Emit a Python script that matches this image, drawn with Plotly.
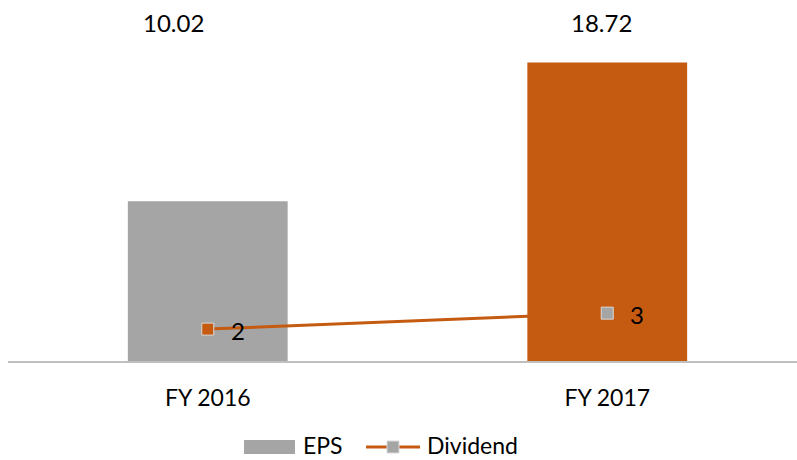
import plotly.graph_objects as go

# Data
years = ["FY 2016", "FY 2017"]
eps = [10.02, 18.72]
dividend = [2, 3]

# Styling
GRAY = "#A5A5A5"
ORANGE = "#C55A11"
FONT = "Lato"
TEXT = "#000000"

W, H = 797, 460
M_L, M_R, M_T, M_B = 8, 0, 42, 99
plot_w = W - M_L - M_R
plot_h = H - M_T - M_B


def px_to_paper(px, py):
    """Convert page pixel coordinates to paper coordinates of the plot area."""
    return (px - M_L) / plot_w, (H - M_B - py) / plot_h


fig = go.Figure()

fig.add_trace(go.Bar(
    x=years, y=eps, name="EPS",
    marker=dict(color=[GRAY, ORANGE], line=dict(width=0)),
    width=0.4, showlegend=False, hoverinfo="x+y",
))

fig.add_trace(go.Scatter(
    x=years, y=dividend, name="Dividend",
    mode="lines+markers",
    line=dict(color=ORANGE, width=3),
    marker=dict(symbol="square", size=12, color=[ORANGE, GRAY],
                line=dict(color="#D9D9D9", width=1)),
    showlegend=False, cliponaxis=False,
))

# Dividend value labels, to the right of each marker
for yr, v in zip(years, dividend):
    fig.add_annotation(
        x=yr, y=v, xref="x", yref="y", xshift=30, yshift=-1,
        showarrow=False, text=str(v),
        font=dict(family=FONT, size=24, color=TEXT),
    )

# EPS value labels along the top edge
label_shift = [-34, -6]
for i, (yr, v) in enumerate(zip(years, eps)):
    fig.add_annotation(
        x=yr, xref="x", y=1, yref="paper", yanchor="middle",
        yshift=20, xshift=label_shift[i], showarrow=False,
        text=f"{v:.2f}", font=dict(family=FONT, size=24, color=TEXT),
    )

# Legend drawn below the axis
LEG_Y = 447
x0, y0 = px_to_paper(244, LEG_Y - 7)
x1, y1 = px_to_paper(295, LEG_Y + 7)
fig.add_shape(type="rect", xref="paper", yref="paper",
              x0=x0, x1=x1, y0=y0, y1=y1,
              fillcolor=GRAY, line=dict(width=0))
tx, ty = px_to_paper(302, LEG_Y - 2)
fig.add_annotation(x=tx, y=ty, xref="paper", yref="paper", xanchor="left",
                   yanchor="middle", showarrow=False, text="EPS",
                   borderpad=0, font=dict(family=FONT, size=23, color=TEXT))

lx0, ly = px_to_paper(366, LEG_Y)
lx1, _ = px_to_paper(420, LEG_Y)
fig.add_shape(type="line", xref="paper", yref="paper",
              x0=lx0, x1=lx1, y0=ly, y1=ly,
              line=dict(color=ORANGE, width=3))
mx0, my0 = px_to_paper(387, LEG_Y - 6)
mx1, my1 = px_to_paper(399, LEG_Y + 6)
fig.add_shape(type="rect", xref="paper", yref="paper",
              x0=mx0, x1=mx1, y0=my0, y1=my1,
              fillcolor=GRAY, line=dict(color="#D9D9D9", width=1))
tx, ty = px_to_paper(426, LEG_Y - 2)
fig.add_annotation(x=tx, y=ty, xref="paper", yref="paper", xanchor="left",
                   yanchor="middle", showarrow=False, text="Dividend",
                   borderpad=0, font=dict(family=FONT, size=23, color=TEXT))

fig.update_layout(
    width=W, height=H, autosize=False,
    margin=dict(l=M_L, r=M_R, t=M_T, b=M_B, pad=0),
    paper_bgcolor="white", plot_bgcolor="white",
    font=dict(family=FONT, size=23, color=TEXT),
    showlegend=False,
    bargap=0.6,
)
fig.update_xaxes(
    type="category", range=[-0.5, 1.475],
    showline=True, linecolor="#BFBFBF", linewidth=1.5,
    showgrid=False, zeroline=False,
    ticks="outside", ticklen=16, tickcolor="rgba(0,0,0,0)",
    tickfont=dict(family=FONT, size=23, color=TEXT),
)
fig.update_yaxes(
    range=[0, 20], visible=False, showgrid=False, zeroline=False,
)

fig.write_html("out.html")
